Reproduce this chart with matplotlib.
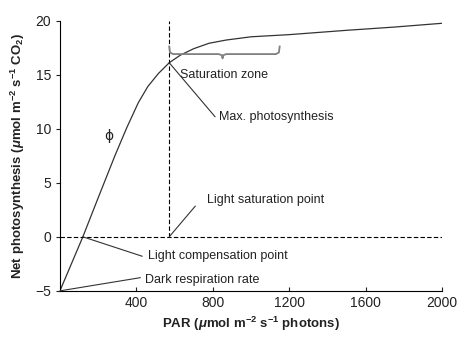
import matplotlib
matplotlib.use('Agg')
import matplotlib.pyplot as plt
import numpy as np

# values
par = [0, 60, 120, 200, 290, 350, 410, 460, 515, 572, 630, 700, 780, 870,
       1000, 1200, 1500, 1750, 2000]
rate = [-5, -2.5, 0, 3.6, 7.6, 10.1, 12.4, 13.9, 15.1, 16.1, 16.8, 17.4, 17.9, 18.2,
        18.5, 18.7, 19.1, 19.4, 19.75]

compensation = (120, 0)
saturation_x = 572
max_photo = (572, 16.1)
dark_resp = (0, -5)
brace_range = (572, 1150)
brace_y = 16.9

xticks = [400, 800, 1200, 1600, 2000]
yticks = [-5, 0, 5, 10, 15, 20]

plt.rcParams['font.family'] = ['Liberation Sans Narrow', 'Liberation Sans', 'DejaVu Sans']
plt.rcParams['mathtext.fontset'] = 'custom'
plt.rcParams['mathtext.rm'] = 'Liberation Sans:bold'
plt.rcParams['mathtext.it'] = 'Liberation Sans:italic:bold'
plt.rcParams['mathtext.bf'] = 'Liberation Sans:bold'

fig = plt.figure(figsize=(4.61, 3.43), dpi=100)
ax = fig.add_axes([0.130, 0.152, 0.829, 0.788])

lc = '#333333'
ax.plot(par, rate, color=lc, lw=0.9)
ax.axhline(0, color='black', lw=0.8, ls=(0, (4, 2)))
ax.plot([saturation_x, saturation_x], [0, 20], color='black', lw=0.8, ls=(0, (4, 2)))

# brace over saturation zone
x0, x1 = brace_range
xm = (x0 + x1) / 2 - 10
h = 0.7
bx = [x0, x0 + 4, x0 + 20, xm - 20, xm - 4, xm, xm + 4, xm + 20, x1 - 20, x1 - 4, x1]
by = [brace_y + h, brace_y + 0.15, brace_y, brace_y, brace_y - 0.1, brace_y - 0.4,
      brace_y - 0.1, brace_y, brace_y, brace_y + 0.15, brace_y + h]
ax.plot(bx, by, color='#808080', lw=1.3)

fs = 9
tc = '#222222'
ax.text(630, 15.0, 'Saturation zone', fontsize=fs, color=tc, va='center')
ax.annotate('Max. photosynthesis', xy=max_photo, xytext=(830, 11.1), fontsize=fs, color=tc,
            va='center', ha='left',
            arrowprops=dict(arrowstyle='-', color=lc, lw=0.8, shrinkA=0, shrinkB=0,
                            relpos=(-0.03, 0.5)))
ax.annotate('Light saturation point', xy=(saturation_x, 0), xytext=(770, 3.4), fontsize=fs,
            color=tc, va='center', ha='left',
            arrowprops=dict(arrowstyle='-', color=lc, lw=0.8, shrinkA=0, shrinkB=0,
                            relpos=(-0.1, 0.0)))
ax.annotate('Light compensation point', xy=compensation, xytext=(460, -1.8), fontsize=fs,
            color=tc, va='center', ha='left',
            arrowprops=dict(arrowstyle='-', color=lc, lw=0.8, shrinkA=0, shrinkB=0,
                            relpos=(-0.04, 0.5)))
ax.annotate('Dark respiration rate', xy=dark_resp, xytext=(445, -4.0), fontsize=fs,
            color=tc, va='center', ha='left',
            arrowprops=dict(arrowstyle='-', color=lc, lw=0.8, shrinkA=0, shrinkB=0,
                            relpos=(-0.04, 0.7)))
ax.text(255, 9.3, '\u03d5', fontsize=10, color=tc, ha='center', va='center',
        family=['DejaVu Sans'])

ax.set_xlim(0, 2000)
ax.set_ylim(-5, 20)
ax.set_xticks(xticks)
ax.set_yticks(yticks)
ax.tick_params(labelsize=10, colors=tc, length=3, width=0.8)
ax.tick_params(axis='x', direction='in')
for s in ['top', 'right']:
    ax.spines[s].set_visible(False)
for s in ['left', 'bottom']:
    ax.spines[s].set_linewidth(0.8)

ax.set_xlabel(r'PAR ($\mu$mol m$^{-2}$ s$^{-1}$ photons)', fontsize=9.5, fontweight='bold',
              color=tc, labelpad=4)
ax.set_ylabel(r'Net photosynthesis ($\mu$mol m$^{-2}$ s$^{-1}$ CO$_2$)', fontsize=9.5,
              fontweight='bold', color=tc, labelpad=6)

fig.savefig('out.png', dpi=100)
